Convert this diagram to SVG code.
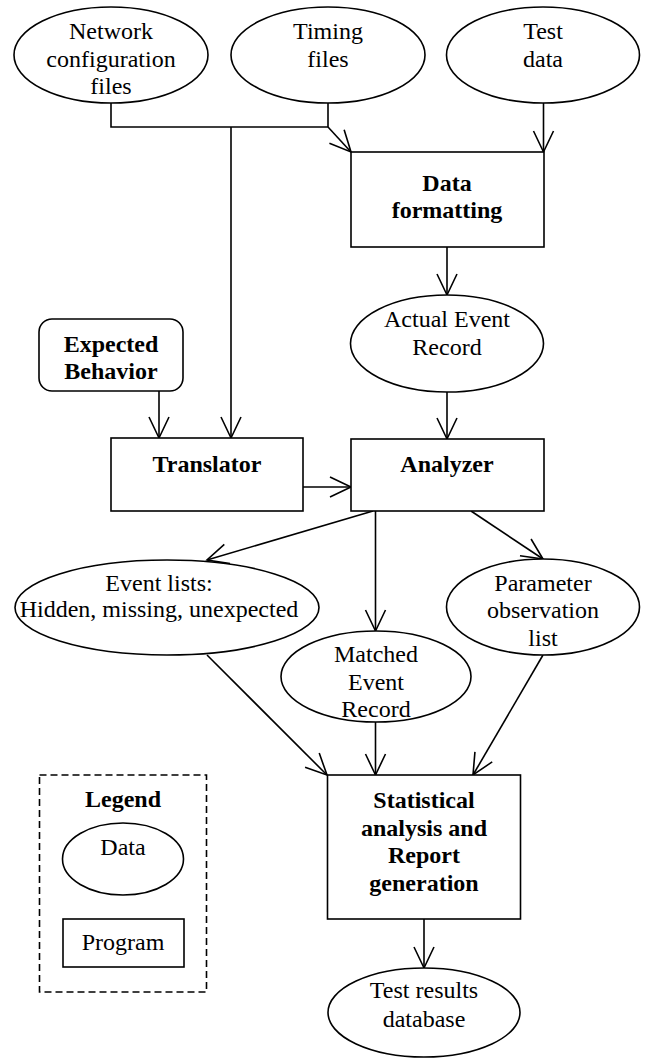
<svg xmlns="http://www.w3.org/2000/svg" width="646" height="1059" viewBox="0 0 646 1059">
<style>
.s{fill:#fff;stroke:#000;stroke-width:1.6}
.t{font-family:'Liberation Serif','Times New Roman',serif;font-size:24px;text-anchor:middle;fill:#000}
.b{font-weight:bold}
.c{fill:none;stroke:#000;stroke-width:1.6}
</style>
<defs>
<marker id="ah" markerUnits="userSpaceOnUse" markerWidth="26" markerHeight="26" refX="22" refY="12" orient="auto">
<path d="M1,2 L22,12 L1,22" fill="none" stroke="#000" stroke-width="1.6"/>
</marker>
</defs>
<rect width="646" height="1059" fill="#fff"/>
<g id="connectors">
<path class="c" d="M111,103 V127 H328 V103"/>
<path class="c" d="M328,127 L351,152" marker-end="url(#ah)"/>
<path class="c" d="M231,127 V438" marker-end="url(#ah)"/>
<path class="c" d="M543.5,103 V152" marker-end="url(#ah)"/>
<path class="c" d="M447,247 V295" marker-end="url(#ah)"/>
<path class="c" d="M447,392 V439" marker-end="url(#ah)"/>
<path class="c" d="M159,391 V438" marker-end="url(#ah)"/>
<path class="c" d="M303,487 H351" marker-end="url(#ah)"/>
<path class="c" d="M373,511 L207,560" marker-end="url(#ah)"/>
<path class="c" d="M375.5,511 V631" marker-end="url(#ah)"/>
<path class="c" d="M471,511 L543,559" marker-end="url(#ah)"/>
<path class="c" d="M207,655 L327,775" marker-end="url(#ah)"/>
<path class="c" d="M375.5,722 V775" marker-end="url(#ah)"/>
<path class="c" d="M543,655 L473,775" marker-end="url(#ah)"/>
<path class="c" d="M424,919 V968" marker-end="url(#ah)"/>
</g>
<g id="network">
<ellipse class="s" cx="111" cy="55" rx="97" ry="48"/>
<text class="t" x="111" y="39">Network</text>
<text class="t" x="111" y="67">configuration</text>
<text class="t" x="111" y="94">files</text>
</g>
<g id="timing">
<ellipse class="s" cx="328" cy="55" rx="97" ry="48"/>
<text class="t" x="328" y="39">Timing</text>
<text class="t" x="328" y="67">files</text>
</g>
<g id="testdata">
<ellipse class="s" cx="543" cy="55" rx="96.5" ry="48"/>
<text class="t" x="543" y="39">Test</text>
<text class="t" x="543" y="67">data</text>
</g>
<g id="dataformatting">
<rect class="s" x="351" y="152" width="193" height="95"/>
<text class="t b" x="447" y="191">Data</text>
<text class="t b" x="447" y="218">formatting</text>
</g>
<g id="actual">
<ellipse class="s" cx="447" cy="343.5" rx="96.5" ry="48.5"/>
<text class="t" x="447" y="327">Actual Event</text>
<text class="t" x="447" y="355">Record</text>
</g>
<g id="expected">
<rect class="s" x="39" y="319" width="144" height="72" rx="13"/>
<text class="t b" x="111" y="352">Expected</text>
<text class="t b" x="111" y="379">Behavior</text>
</g>
<g id="translator">
<rect class="s" x="111" y="438" width="192" height="73"/>
<text class="t b" x="207" y="472">Translator</text>
</g>
<g id="analyzer">
<rect class="s" x="351" y="439" width="193" height="72"/>
<text class="t b" x="447" y="472">Analyzer</text>
</g>
<g id="eventlists">
<ellipse class="s" cx="167" cy="607.5" rx="152" ry="47.5"/>
<text class="t" x="159" y="591">Event lists:</text>
<text class="t" x="159" y="617">Hidden, missing, unexpected</text>
</g>
<g id="matched">
<ellipse class="s" cx="376" cy="676.5" rx="95" ry="45.5"/>
<text class="t" x="376" y="662">Matched</text>
<text class="t" x="376" y="690">Event</text>
<text class="t" x="376" y="717">Record</text>
</g>
<g id="parameter">
<ellipse class="s" cx="543" cy="607" rx="96.5" ry="48"/>
<text class="t" x="543" y="591">Parameter</text>
<text class="t" x="543" y="618">observation</text>
<text class="t" x="543" y="646">list</text>
</g>
<g id="statistical">
<rect class="s" x="327.5" y="775" width="193" height="144"/>
<text class="t b" x="424" y="808">Statistical</text>
<text class="t b" x="424" y="836">analysis and</text>
<text class="t b" x="424" y="863">Report</text>
<text class="t b" x="424" y="891">generation</text>
</g>
<g id="testresults">
<ellipse class="s" cx="424" cy="1012.5" rx="96" ry="44.5"/>
<text class="t" x="424" y="998">Test results</text>
<text class="t" x="424" y="1027">database</text>
</g>
<g id="legend">
<rect x="39.5" y="775" width="167" height="217" fill="none" stroke="#000" stroke-width="1.6" stroke-dasharray="7,4"/>
<text class="t b" x="123" y="807">Legend</text>
<ellipse class="s" cx="123" cy="859" rx="60.5" ry="36"/>
<text class="t" x="123" y="855">Data</text>
<rect class="s" x="63" y="919" width="121" height="48"/>
<text class="t" x="123" y="950">Program</text>
</g>
</svg>
